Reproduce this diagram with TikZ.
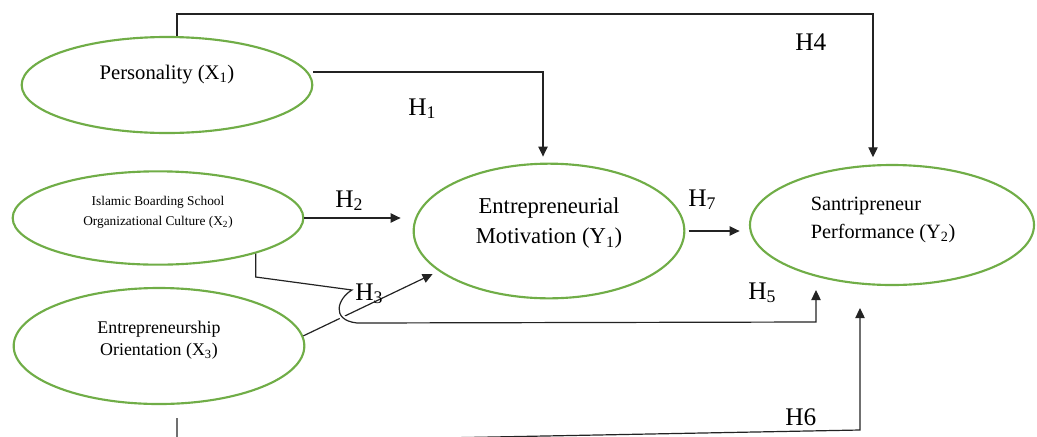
\documentclass[tikz,border=0pt]{standalone}
\usepackage{fontspec}
\setmainfont{Liberation Serif}
\usetikzlibrary{positioning}
\usetikzlibrary{calc}
\usetikzlibrary{shapes.geometric}
\usetikzlibrary{arrows.meta}
\tikzset{construct/.style={draw=mgreen, line width=1.6pt, ellipse, inner sep=0pt}}
\definecolor{mgreen}{RGB}{112,173,71}
\definecolor{mline}{RGB}{35,35,35}

\begin{document}
\begin{tikzpicture}[x=0.75pt, y=-0.75pt,
    arrow/.style={-{Triangle[length=7.5pt, width=7pt]}, draw=mline, line width=0.9pt},
    hlabel/.style={anchor=base west, inner sep=0pt, font=\fontsize{19}{21}\selectfont},
]
\clip (0,0) rectangle (1037,436);

\node[construct, minimum width=218pt, minimum height=72pt, label={[name=perstext, yshift=7.5pt, font=\fontsize{15.5}{18}\selectfont]center:Personality (X\textsubscript{1})}] (pers) at (167,85) {};
\node[construct, minimum width=218pt, minimum height=70pt, label={[name=culttext, yshift=4pt, align=center, font=\fontsize{10}{15}\selectfont]center:Islamic Boarding School\\Organizational Culture (X\textsubscript{2})}] (cult) at (158,218) {};
\node[construct, minimum width=218pt, minimum height=87pt, label={[name=eotext, yshift=4pt, align=center, font=\fontsize{13.4}{16.5}\selectfont]center:Entrepreneurship\\Orientation (X\textsubscript{3})}] (eo) at (159,346) {};
\node[construct, minimum width=203pt, minimum height=101pt, label={[name=emtext, yshift=5.6pt, align=center, font=\fontsize{17}{22.5}\selectfont]center:Entrepreneurial\\Motivation (Y\textsubscript{1})}] (em) at (549,231) {};
\node[construct, minimum width=213pt, minimum height=90pt, label={[name=santritext, yshift=4pt, xshift=-6.75pt, align=left, font=\fontsize{15.2}{21}\selectfont]center:Santripreneur\\Performance (Y\textsubscript{2})}] (santri) at (892,225) {};

\coordinate (h4corner) at (177,14);
\coordinate (h4turn) at (873,14);
\coordinate (h1turn) at (543,72);
\coordinate (h5drop) at (254,277);
\coordinate (h5bend) at (352,290);
\coordinate (h5loop) at (357,323);
\coordinate (h5turn) at (816,322);
\coordinate (h5end) at (816,290);
\coordinate (h6start) at (177,418);
\coordinate (h6low) at (177,443);
\coordinate (h6turn) at (860,430);
\coordinate (h6end) at (860,308);

\draw[arrow, shorten >=5pt] (pers.north -| h4corner) -- (h4corner) -- (h4turn) -- (h4turn |- santri.north);
\draw[arrow, shorten >=4.5pt] (pers.east |- h1turn) -- (h1turn) -- (h1turn |- em.north);
\draw[arrow, shorten >=9pt] (cult.east) -- (cult.east -| em.west);
\draw[arrow, shorten >=5pt] (eo.4) -- (em.200);
\draw[arrow, shorten <=2.5pt, shorten >=7pt] (em.east) -- (em.east -| santri.west);
\draw[white, line width=4pt] (h5bend) .. controls (338,298) and (330,320) .. (h5loop);
\draw[arrow] (cult.340) -- (cult.340 |- h5drop) -- (h5bend) .. controls (338,298) and (330,320) .. (h5loop) -- (h5turn) -- (h5end);
\draw[arrow] (h6start) -- (h6low) -- (h6turn) -- (h6end);

\node[hlabel] (h1) at (408,115) {H\textsubscript{1}};
\node[hlabel] (h2) at (335,207) {H\textsubscript{2}};
\node[hlabel] (h3) at (355,300) {H\textsubscript{3}};
\node[hlabel] (h4) at (795,50) {H4};
\node[hlabel] (h5) at (748,299) {H\textsubscript{5}};
\node[hlabel] (h6) at (785,425) {H6};
\node[hlabel] (h7) at (688,206) {H\textsubscript{7}};
\end{tikzpicture}
\end{document}
